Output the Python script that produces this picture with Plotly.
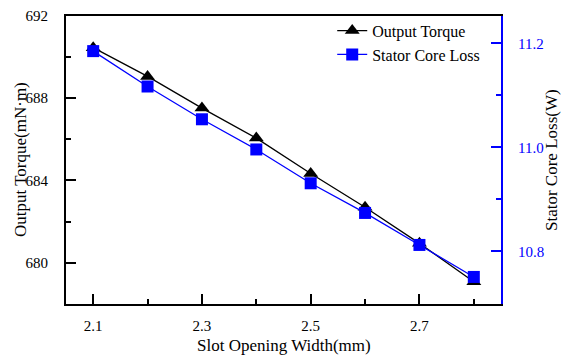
import plotly.graph_objects as go

slot_width = [2.1, 2.2, 2.3, 2.4, 2.5, 2.6, 2.7, 2.8]
output_torque = [690.46, 689.06, 687.52, 686.06, 684.34, 682.70, 680.94, 679.07]
core_loss = [11.185, 11.117, 11.054, 10.996, 10.931, 10.874, 10.8125, 10.751]

x_title = "Slot Opening Width(mm)"
y_title = "Output Torque(mN·m)"
y2_title = "Stator Core Loss(W)"

FONT = "Liberation Serif"
BLUE = "#0000FF"

fig = go.Figure()
fig.add_trace(go.Scatter(
    x=slot_width, y=output_torque, name="Output Torque", mode="lines+markers",
    line=dict(color="black", width=1.3),
    marker=dict(symbol="triangle-up", size=13, color="black"),
))
fig.add_trace(go.Scatter(
    x=slot_width, y=core_loss, name="Stator Core Loss", mode="lines+markers",
    yaxis="y2",
    line=dict(color=BLUE, width=1.3),
    marker=dict(symbol="square", size=12, color=BLUE),
))

fig.update_layout(
    width=562, height=359,
    margin=dict(l=66, r=61, t=16, b=55),
    paper_bgcolor="white", plot_bgcolor="white",
    font=dict(family=FONT, size=15, color="black"),
    showlegend=True,
    legend=dict(x=0.612, y=1.008, xanchor="left", yanchor="top",
                bgcolor="rgba(0,0,0,0)", font=dict(size=16, family=FONT),
                tracegroupgap=0, itemwidth=30),
    xaxis=dict(
        range=[2.05, 2.85], tick0=2.1, dtick=0.2, tickformat=".1f",
        ticks="inside", ticklen=10, tickwidth=2, tickcolor="black",
        showline=True, linecolor="black", linewidth=2, mirror=True,
        showgrid=False, zeroline=False, ticklabelstandoff=7, automargin=False,
        minor=dict(ticks="inside", ticklen=5, tickwidth=2, tickcolor="black",
                   dtick=0.1, tick0=2.1, showgrid=False),
    ),
    yaxis=dict(
        range=[677.99, 692], tick0=680, dtick=4,
        ticks="inside", ticklen=10, tickwidth=2, tickcolor="black",
        showline=True, linecolor="black", linewidth=2,
        showgrid=False, zeroline=False, ticklabelstandoff=13, automargin=False,
        minor=dict(ticks="inside", ticklen=5, tickwidth=2, tickcolor="black",
                   dtick=2, tick0=680, showgrid=False),
    ),
    yaxis2=dict(
        overlaying="y", side="right",
        range=[10.699, 11.2525], tick0=10.8, dtick=0.2, tickformat=".1f",
        ticks="inside", ticklen=10, tickwidth=2, tickcolor=BLUE,
        tickfont=dict(color=BLUE),
        showline=True, linecolor=BLUE, linewidth=2,
        showgrid=False, zeroline=False, ticklabelstandoff=12, automargin=False,
        minor=dict(ticks="inside", ticklen=5, tickwidth=2, tickcolor=BLUE,
                   dtick=0.1, tick0=10.8, showgrid=False),
    ),
    annotations=[
        dict(text=x_title, xref="paper", yref="paper", x=0.5, y=0,
             xanchor="center", yanchor="middle", yshift=-41, showarrow=False,
             font=dict(size=17, family=FONT, color="black")),
        dict(text=y_title, xref="paper", yref="paper", x=0, y=0.5,
             xanchor="center", yanchor="middle", xshift=-46, textangle=-90,
             showarrow=False, font=dict(size=17, family=FONT, color="black")),
        dict(text=y2_title, xref="paper", yref="paper", x=1, y=0.5,
             xanchor="center", yanchor="middle", xshift=50, textangle=-90,
             showarrow=False, font=dict(size=17, family=FONT, color="black")),
    ],
)

fig.write_html("out.html")
